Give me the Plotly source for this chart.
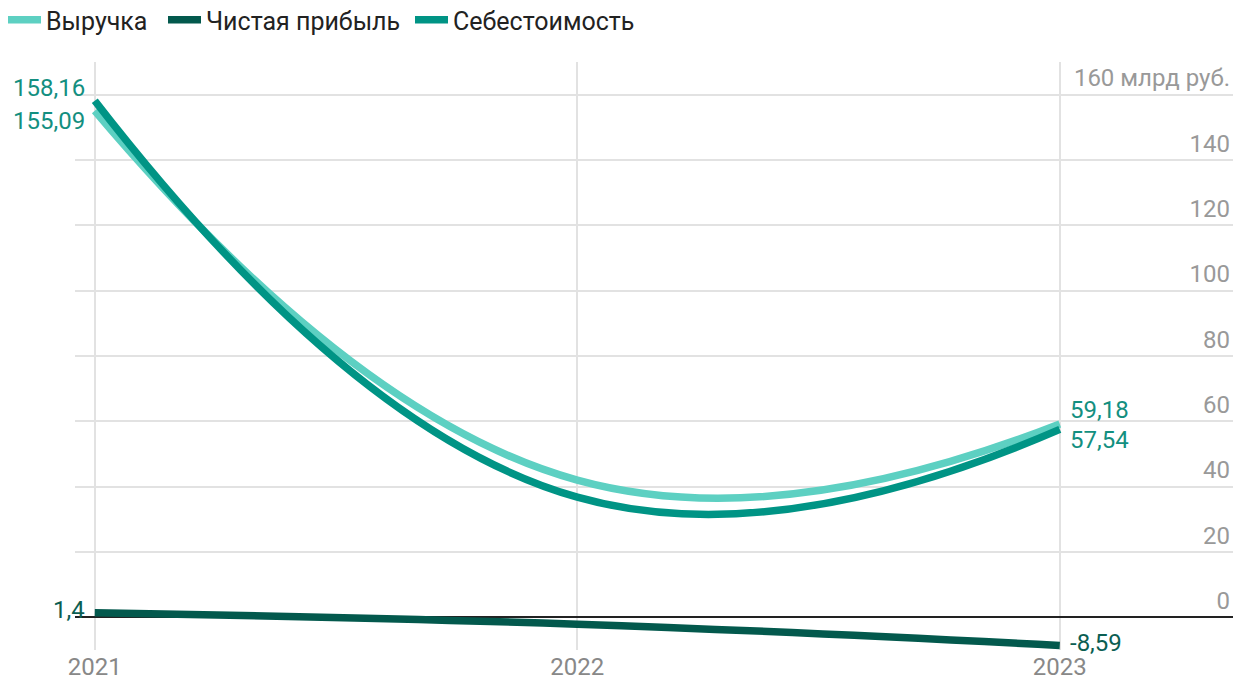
import plotly.graph_objects as go

years = [2021, 2022, 2023]
revenue = [155.09, 42.0, 59.18]          # Выручка
net_profit = [1.4, -2.1, -8.59]          # Чистая прибыль
cost = [158.16, 36.8, 57.54]             # Себестоимость

y_ticks = [0, 20, 40, 60, 80, 100, 120, 140, 160]
y_tick_text = ["0", "20", "40", "60", "80", "100", "120", "140", "160 млрд руб."]

C_REV = "#5dd0c2"
C_PROFIT = "#03594d"
C_COST = "#009485"
LBL_TEAL = "#138f80"
LBL_DARK = "#0b5e52"
FONT = "Roboto"
FS = 24
W, H = 1244, 686


def fmt(v):
    return repr(v).replace(".", ",")


# each series gets its own legend box so the entries can be spaced freely
series = [("Выручка", revenue, C_REV, "legend", 3),
          ("Чистая прибыль", net_profit, C_PROFIT, "legend2", 163),
          ("Себестоимость", cost, C_COST, "legend3", 410)]

fig = go.Figure()
legends = {}
for name, vals, col, lg, lx in series:
    fig.add_trace(go.Scatter(
        x=years, y=vals, name=name, mode="lines", legend=lg,
        line=dict(color=col, width=7.5, shape="spline", smoothing=1.3),
    ))
    legends[lg] = dict(orientation="h", xref="container", yref="container",
                       x=lx / W, y=1 - 20 / H, xanchor="left", yanchor="middle",
                       font=dict(family=FONT, size=25, color="#222"),
                       itemwidth=33, bgcolor="rgba(0,0,0,0)")

# value labels at both ends of each line
ann = []
left = [(cost[0], LBL_TEAL, 13), (revenue[0], LBL_TEAL, -10), (net_profit[0], LBL_DARK, 3)]
for v, c, ys in left:
    ann.append(dict(x=years[0], y=v, text=fmt(v), xanchor="right", yanchor="middle",
                    xshift=-8, yshift=ys, showarrow=False,
                    font=dict(family=FONT, size=FS, color=c)))
right = [(revenue[-1], LBL_TEAL, 14), (cost[-1], LBL_TEAL, -11), (net_profit[-1], LBL_DARK, 2)]
for v, c, ys in right:
    ann.append(dict(x=years[-1], y=v, text=fmt(v), xanchor="left", yanchor="middle",
                    xshift=8, yshift=ys, showarrow=False,
                    font=dict(family=FONT, size=FS, color=c)))

fig.update_layout(
    width=W, height=H,
    margin=dict(l=75, r=11, t=62, b=36),
    paper_bgcolor="white", plot_bgcolor="white",
    font=dict(family=FONT, size=FS, color="#222"),
    showlegend=True,
    annotations=ann,
    xaxis=dict(range=[2020.959, 2023.359], tickvals=years, ticktext=[str(y) for y in years],
               showgrid=True, gridcolor="#e2e2e2", gridwidth=2, zeroline=False, automargin=False,
               showline=False, ticks="", tickfont=dict(family=FONT, size=FS, color="#888")),
    yaxis=dict(range=[-10, 170], side="right", tickvals=y_ticks, ticktext=y_tick_text,
               ticklabelposition="inside top", showgrid=True, gridcolor="#e2e2e2", gridwidth=2,
               zeroline=True, zerolinecolor="#222", zerolinewidth=1.5, ticks="", automargin=False,
               tickfont=dict(family=FONT, size=FS, color="#999")),
    **legends,
)

fig.write_html("out.html")
